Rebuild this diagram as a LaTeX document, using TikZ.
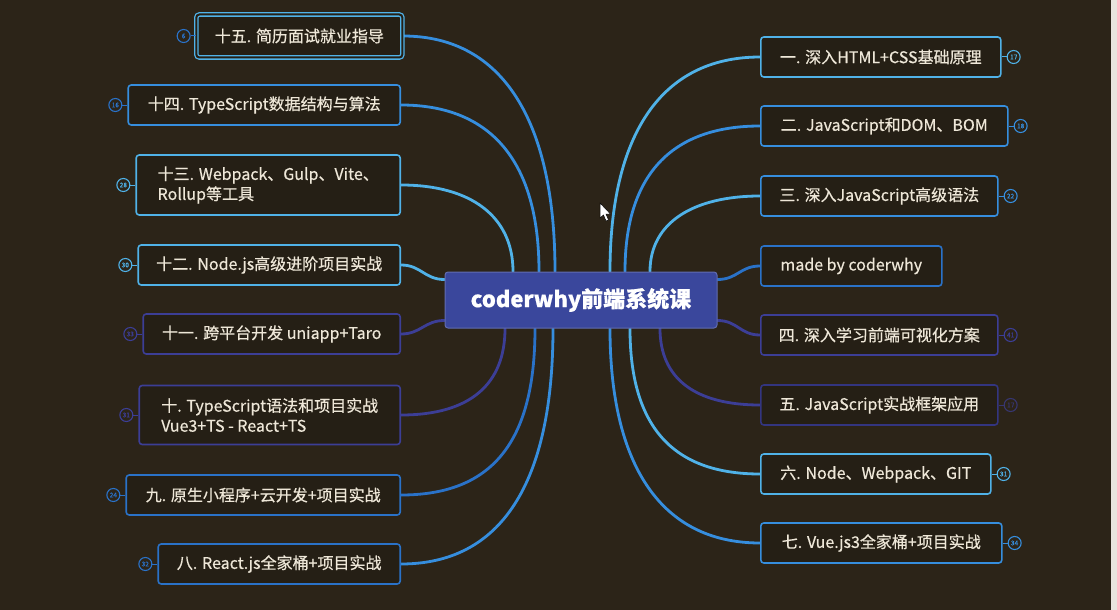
\documentclass[tikz,border=0pt]{standalone}
\usepackage{fontspec}
\setmainfont{Noto Sans CJK SC}[FakeBold=0.5]
\usetikzlibrary{positioning}
\pgfdeclarelayer{links}
\pgfsetlayers{links,main}

\definecolor{bgdark}{RGB}{44,36,24}
\definecolor{boxfill}{RGB}{37,31,21}
\definecolor{txt}{RGB}{238,231,216}
\definecolor{skyline}{RGB}{80,178,232}
\definecolor{midline}{RGB}{54,142,222}
\definecolor{deepline}{RGB}{42,114,200}
\definecolor{indline}{RGB}{60,62,150}
\definecolor{ctrfill}{RGB}{58,71,156}
\definecolor{stripgray}{RGB}{232,228,222}

\begin{document}
\begin{tikzpicture}[x=1pt, y=-1pt,
	box/.style={draw, rounded corners=3pt, line width=1.6pt, fill=boxfill, text=txt, minimum height=40pt, align=left, inner xsep=12pt, font=\fontsize{16}{20}\selectfont},
	badge/.style={draw, circle, line width=1.1pt, inner sep=0pt, minimum size=13pt, font=\fontsize{6.5}{6.5}\selectfont},
	link/.style={line width=2.8pt, line cap=round}]
		\useasboundingbox (0,0) rectangle (1117,610);
		
		%centre
		\node[draw=ctrfill!80!white, fill=ctrfill, rounded corners=3pt, line width=1pt, text=white, minimum width=272pt, minimum height=56pt, font=\fontsize{22}{26}\selectfont\bfseries] (ctr) at (581,300) {coderwhy前端系统课};
		
		%left side
		\node[box, draw=skyline, double=boxfill, double distance=2pt, line width=1.3pt, minimum width=206pt, minimum height=43pt, anchor=east] (n15) at (403,36) {十五. 简历面试就业指导};
		\node[box, draw=midline, minimum width=272pt, anchor=east] (n14) at (401,105) {十四. TypeScript数据结构与算法};
		\node[box, draw=skyline, minimum width=264pt, minimum height=60pt, anchor=east] (n13) at (401,185) {十三. Webpack、Gulp、Vite、\\Rollup等工具};
		\node[box, draw=skyline, minimum width=262pt, anchor=east] (n12) at (401,265) {十二. Node.js高级进阶项目实战};
		\node[box, draw=indline, minimum width=257pt, anchor=east] (n11) at (401,334) {十一. 跨平台开发 uniapp+Taro};
		\node[box, draw=indline, minimum width=261pt, minimum height=59pt, anchor=east] (n10) at (401,415) {十. TypeScript语法和项目实战\\Vue3+TS - React+TS};
		\node[box, draw=deepline, minimum width=274pt, anchor=east] (n9) at (401,495) {九. 原生小程序+云开发+项目实战};
		\node[box, draw=deepline, minimum width=242pt, anchor=east] (n8) at (401,564) {八. React.js全家桶+项目实战};
		
		%right side
		\node[box, draw=skyline, minimum width=240pt, anchor=west] (n1) at (760,57) {一. 深入HTML+CSS基础原理};
		\node[box, draw=midline, minimum width=247pt, anchor=west] (n2) at (760,126) {二. JavaScript和DOM、BOM};
		\node[box, draw=midline, minimum width=237pt, anchor=west] (n3) at (760,196) {三. 深入JavaScript高级语法};
		\node[box, draw=deepline, minimum width=181pt, anchor=west] (nm) at (760,266) {made by coderwhy};
		\node[box, draw=indline, minimum width=237pt, anchor=west] (n4) at (760,335) {四. 深入学习前端可视化方案};
		\node[box, draw=indline!85!black, minimum width=237pt, anchor=west] (n5) at (760,405) {五. JavaScript实战框架应用};
		\node[box, draw=skyline, minimum width=230pt, anchor=west] (n6) at (760,474) {六. Node、Webpack、GIT};
		\node[box, draw=midline, minimum width=241pt, anchor=west] (n7) at (760,543) {七. Vue.js3全家桶+项目实战};
		
		%count badges
		\foreach \bx/\num/\col in {n15/6/deepline, n14/16/deepline, n13/28/skyline, n12/30/skyline, n11/33/indline, n10/31/indline, n9/24/deepline, n8/32/deepline}{
			\node[badge, draw=\col, text=\col, left=5pt of \bx] (d\bx) {\num};
			\draw[\col, line width=1pt] (d\bx) -- (\bx);
		}
		\foreach \bx/\num/\col in {n1/17/skyline, n2/18/midline, n3/22/midline, n4/41/indline, n5/17/indline!70!bgdark, n6/31/skyline, n7/34/midline}{
			\node[badge, draw=\col, text=\col, right=5pt of \bx] (d\bx) {\num};
			\draw[\col, line width=1pt] (\bx) -- (d\bx);
		}
		
		%cursor
		\filldraw[fill=white, draw=black, line width=0.5pt] (600,203) -- (600,218) -- (603.5,215) -- (606,221) -- (608.5,220) -- (606,214) -- (610.5,214) -- cycle;
		
		\begin{pgfonlayer}{links}
		\fill[bgdark] (0,0) rectangle (1111,610);
		\fill[stripgray] (1111,0) rectangle (1117,610);
		%links to the left
		\draw[link, midline] ([xshift=-26pt]ctr.north) .. controls +(0,-150) and +(100,0) .. (n15.east);
		\draw[link, midline] ([xshift=-42pt]ctr.north) .. controls +(0,-110) and +(90,0) .. (n14.east);
		\draw[link, skyline] ([xshift=-68pt]ctr.north) .. controls +(0,-55) and +(70,0) .. (n13.east);
		\draw[link, skyline] ([yshift=-8pt]ctr.north west) .. controls +(-20,0) and +(20,0) .. (n12.east);
		\draw[link, indline] ([yshift=8pt]ctr.south west) .. controls +(-20,0) and +(20,0) .. (n11.east);
		\draw[link, indline] ([xshift=-76pt]ctr.south) .. controls +(0,55) and +(70,0) .. (n10.east);
		\draw[link, deepline] ([xshift=-46pt]ctr.south) .. controls +(0,115) and +(90,0) .. (n9.east);
		\draw[link, midline] ([xshift=-28pt]ctr.south) .. controls +(0,155) and +(100,0) .. (n8.east);
		%links to the right
		\draw[link, skyline] ([xshift=29pt]ctr.north) .. controls +(0,-135) and +(-100,0) .. (n1.west);
		\draw[link, midline] ([xshift=44pt]ctr.north) .. controls +(0,-95) and +(-90,0) .. (n2.west);
		\draw[link, skyline] ([xshift=69pt]ctr.north) .. controls +(0,-50) and +(-65,0) .. (n3.west);
		\draw[link, deepline] ([yshift=-8pt]ctr.north east) .. controls +(20,0) and +(-20,0) .. (nm.west);
		\draw[link, indline] ([yshift=8pt]ctr.south east) .. controls +(20,0) and +(-20,0) .. (n4.west);
		\draw[link, indline] ([xshift=79pt]ctr.south) .. controls +(0,50) and +(-65,0) .. (n5.west);
		\draw[link, skyline] ([xshift=49pt]ctr.south) .. controls +(0,95) and +(-90,0) .. (n6.west);
		\draw[link, midline] ([xshift=29pt]ctr.south) .. controls +(0,135) and +(-100,0) .. (n7.west);
		\end{pgfonlayer}
\end{tikzpicture}
\end{document}
